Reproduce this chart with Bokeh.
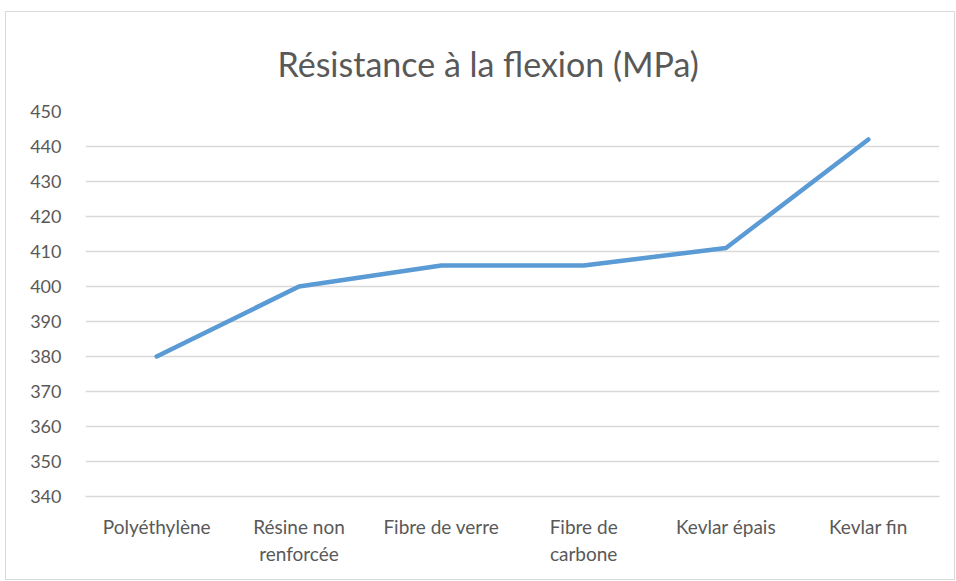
from bokeh.plotting import figure
from bokeh.models import Range1d, FixedTicker, Title
from bokeh.embed import file_html
from bokeh.resources import INLINE

categories = ["Polyéthylène", "Résine non\nrenforcée", "Fibre de verre",
              "Fibre de\ncarbone", "Kevlar épais", "Kevlar fin"]
values = [380, 400, 406, 406, 411, 442]
y_ticks = list(range(340, 451, 10))

FONT = "Lato"
TXT = "#595959"
GRID = "#d9d9d9"

p = figure(width=950, height=569, x_range=categories, y_range=Range1d(340, 450),
           output_backend="svg", toolbar_location=None,
           min_border_left=79, min_border_right=17, min_border_top=98, min_border_bottom=85)

p.line(categories, values, line_color="#5b9bd5", line_width=4.5, line_cap="round", line_join="round")

p.title = Title(text="Résistance à la flexion (MPa)", align="left", offset=192,
                text_font=FONT, text_font_size="34px", text_color=TXT, text_font_style="normal",
                standoff=56)

p.outline_line_color = None
p.xgrid.grid_line_color = None
p.ygrid.grid_line_color = GRID
p.ygrid.grid_line_width = 1.3
p.yaxis.ticker = FixedTicker(ticks=y_ticks)
p.yaxis.axis_line_color = None
p.yaxis.major_tick_line_color = None
p.yaxis.minor_tick_line_color = None
p.yaxis.major_label_standoff = 18
p.yaxis.major_label_text_font = FONT
p.yaxis.major_label_text_font_size = "18px"
p.yaxis.major_label_text_color = TXT

p.xaxis.axis_line_color = GRID
p.xaxis.axis_line_width = 1.3
p.xaxis.major_tick_line_color = None
p.xaxis.minor_tick_line_color = None
p.xaxis.major_label_standoff = 12
p.xaxis.major_label_text_font = FONT
p.xaxis.major_label_text_font_size = "19px"
p.xaxis.major_label_text_color = TXT
p.xaxis.major_label_text_line_height = 1.2

p.styles = {"border": "1px solid #d9d9d9", "margin-left": "5px", "margin-top": "11px"}

open("out.html", "w").write(file_html(p, INLINE))
